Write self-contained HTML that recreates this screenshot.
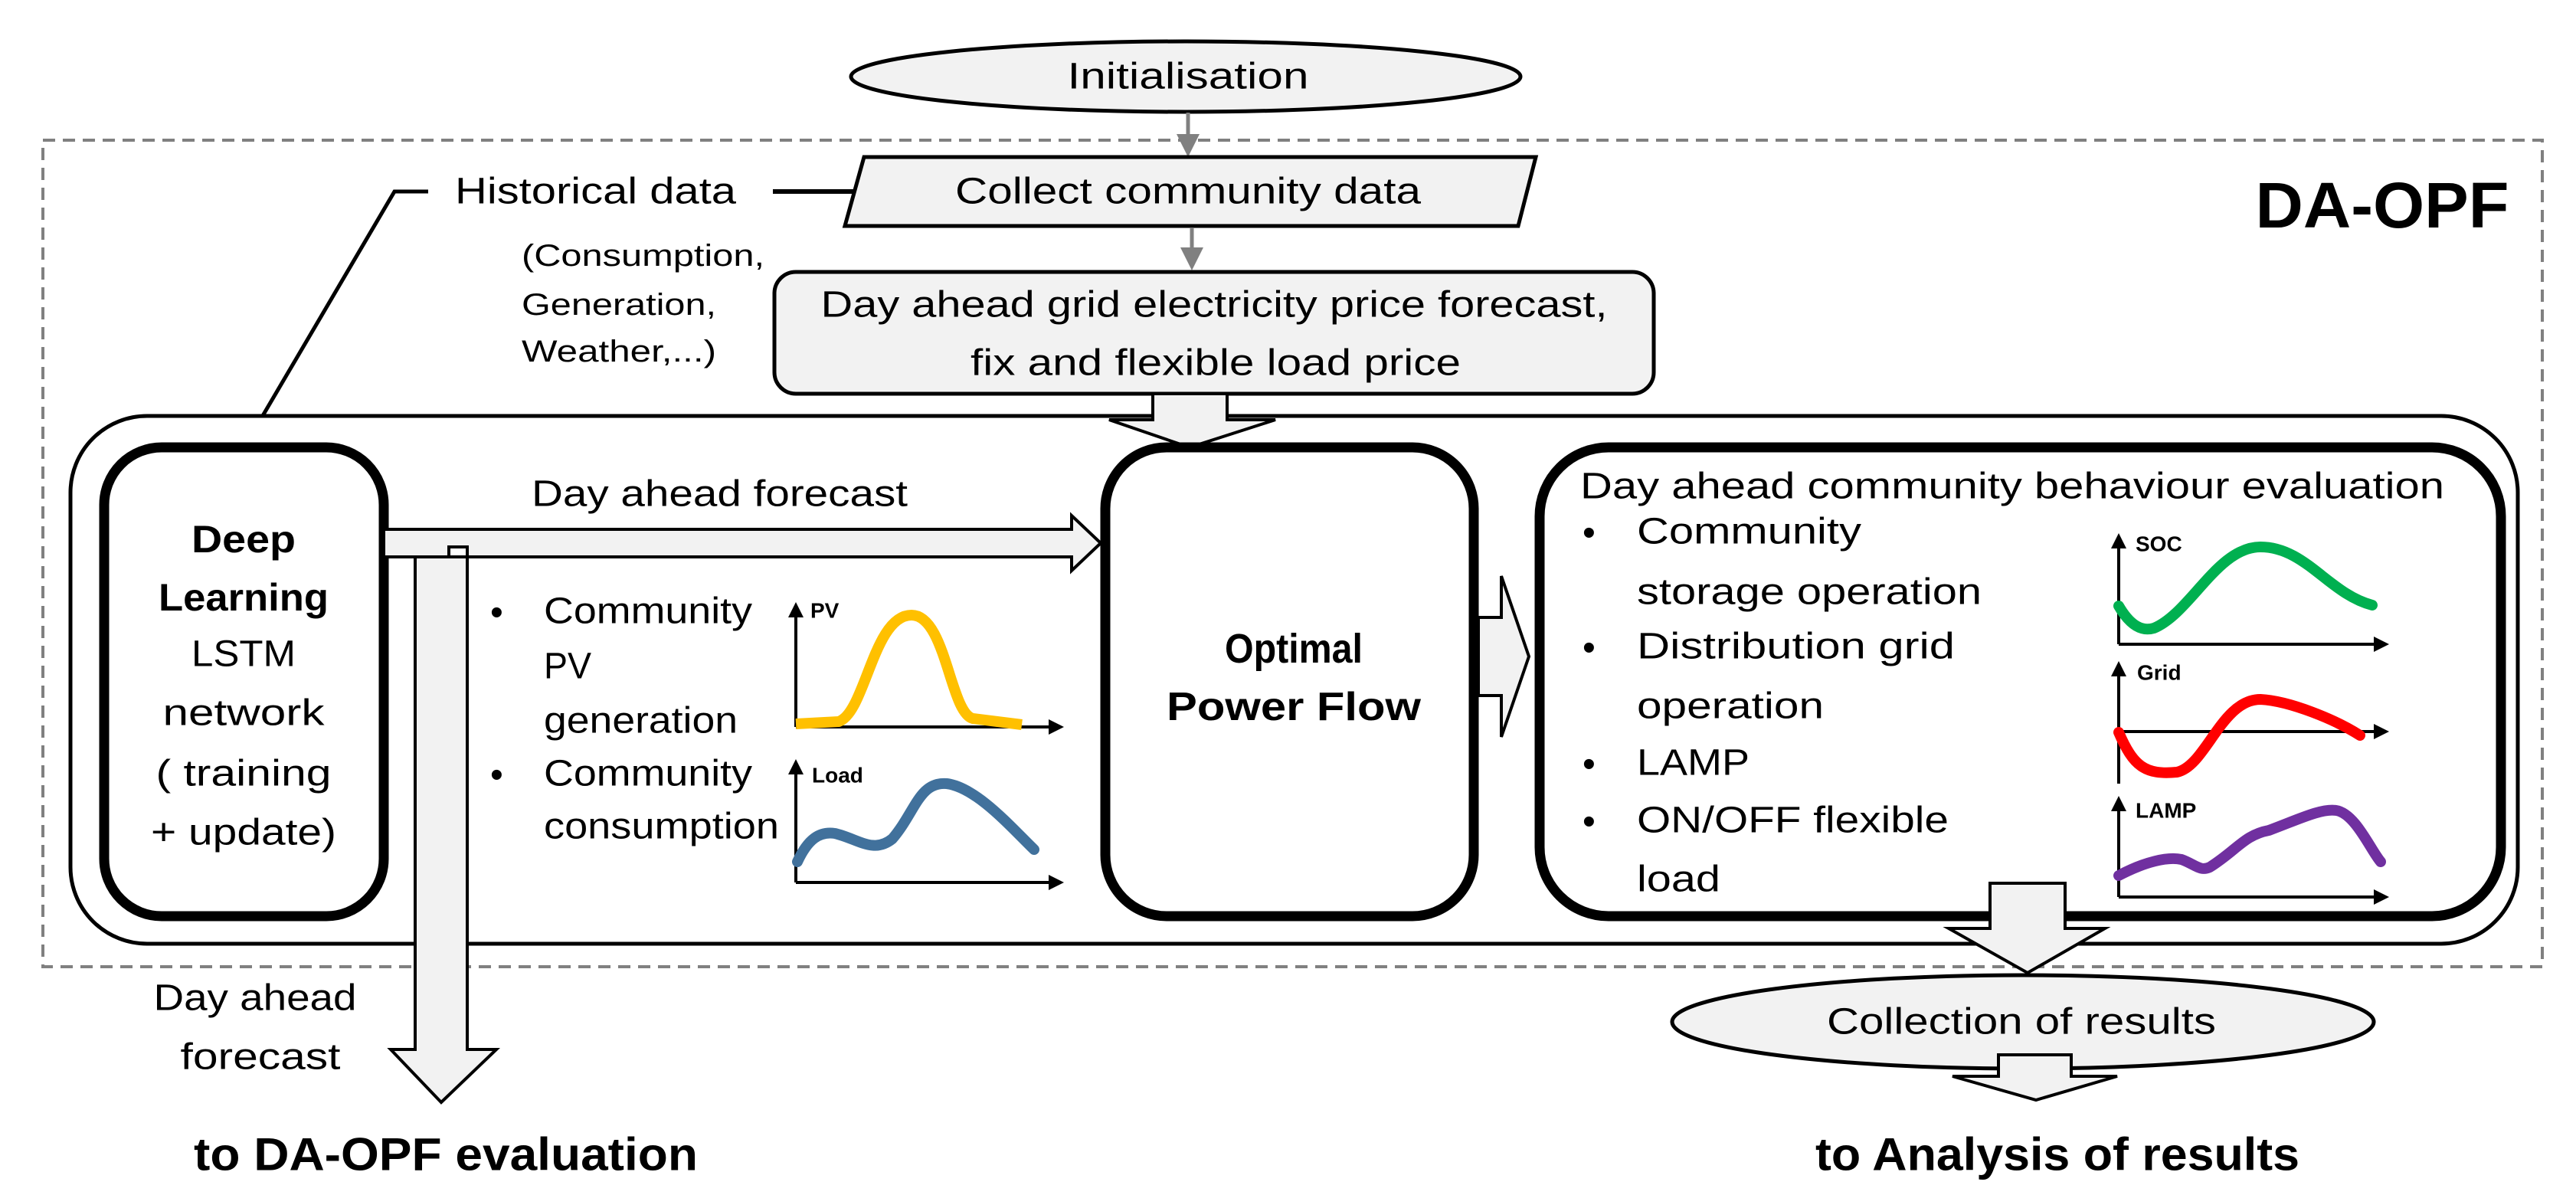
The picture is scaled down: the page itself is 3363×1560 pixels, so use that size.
<!DOCTYPE html>
<html><head><meta charset="utf-8"><style>
html,body{margin:0;padding:0;background:#fff;}
svg{display:block;}
text{font-family:"Liberation Sans",sans-serif;fill:#000;}
</style></head><body>
<svg width="3363" height="1560" viewBox="0 0 3363 1560" xmlns="http://www.w3.org/2000/svg">
<defs>
<marker id="ga" markerWidth="6" markerHeight="6" refX="5" refY="3" orient="auto" markerUnits="strokeWidth"><path d="M0,0 L6,3 L0,6 z" fill="#808080"/></marker>
<marker id="ba" markerWidth="5" markerHeight="5" refX="4" refY="2.5" orient="auto" markerUnits="strokeWidth"><path d="M0,0 L5,2.5 L0,5 z" fill="#000"/></marker>
</defs>
<rect x="56" y="183" width="3263" height="1079" fill="none" stroke="#808080" stroke-width="4" stroke-dasharray="16,10"/>
<ellipse cx="1548" cy="100" rx="437" ry="46" fill="#f2f2f2" stroke="#000" stroke-width="5"/>
<text x="1551" y="100" dominant-baseline="central" text-anchor="middle" font-size="48" textLength="315" lengthAdjust="spacingAndGlyphs">Initialisation</text>
<line x1="1551" y1="147" x2="1551" y2="200" stroke="#808080" stroke-width="5" marker-end="url(#ga)"/>
<polygon points="1128,205 2005,205 1982,295 1103,295" fill="#f2f2f2" stroke="#000" stroke-width="5"/>
<text x="1551" y="250" dominant-baseline="central" text-anchor="middle" font-size="48" textLength="608" lengthAdjust="spacingAndGlyphs">Collect community data</text>
<line x1="1556" y1="297" x2="1556" y2="348" stroke="#808080" stroke-width="5" marker-end="url(#ga)"/>
<text x="594" y="250" dominant-baseline="central" font-size="48" textLength="367" lengthAdjust="spacingAndGlyphs">Historical data</text>
<line x1="1009" y1="250" x2="1117" y2="250" stroke="#000" stroke-width="6"/>
<polyline points="559,250 515,250 334,558" fill="none" stroke="#000" stroke-width="5"/>
<polygon points="323,580 322,550 344,562" fill="#000"/>
<text x="681" y="334" dominant-baseline="central" font-size="40" textLength="317" lengthAdjust="spacingAndGlyphs">(Consumption,</text>
<text x="681" y="398" dominant-baseline="central" font-size="40" textLength="254" lengthAdjust="spacingAndGlyphs">Generation,</text>
<text x="681" y="459" dominant-baseline="central" font-size="40" textLength="254" lengthAdjust="spacingAndGlyphs">Weather,...)</text>
<rect x="1011" y="355" width="1148" height="159" rx="28" fill="#f2f2f2" stroke="#000" stroke-width="5"/>
<text x="1585" y="398" dominant-baseline="central" text-anchor="middle" font-size="48" textLength="1027" lengthAdjust="spacingAndGlyphs">Day ahead grid electricity price forecast,</text>
<text x="1587" y="474" dominant-baseline="central" text-anchor="middle" font-size="48" textLength="640" lengthAdjust="spacingAndGlyphs">fix and flexible load price</text>
<text x="3110" y="268" dominant-baseline="central" text-anchor="middle" font-size="84" font-weight="bold" textLength="331" lengthAdjust="spacingAndGlyphs">DA-OPF</text>
<rect x="92" y="543" width="3195" height="689" rx="100" fill="#fff" stroke="#000" stroke-width="5"/>
<polygon points="1505,514 1602,514 1602,548 1665,548 1553,584 1448,548 1505,548" fill="#f2f2f2" stroke="#000" stroke-width="4"/>
<rect x="136" y="584" width="365" height="612" rx="75" fill="#fff" stroke="#000" stroke-width="13"/>
<text x="318" y="704" dominant-baseline="central" text-anchor="middle" font-size="50" font-weight="bold" textLength="136" lengthAdjust="spacingAndGlyphs">Deep</text>
<text x="318" y="780" dominant-baseline="central" text-anchor="middle" font-size="50" font-weight="bold" textLength="222" lengthAdjust="spacingAndGlyphs">Learning</text>
<text x="318" y="854" dominant-baseline="central" text-anchor="middle" font-size="48" textLength="136" lengthAdjust="spacingAndGlyphs">LSTM</text>
<text x="318" y="931" dominant-baseline="central" text-anchor="middle" font-size="48" textLength="211" lengthAdjust="spacingAndGlyphs">network</text>
<text x="318" y="1010" dominant-baseline="central" text-anchor="middle" font-size="48" textLength="229" lengthAdjust="spacingAndGlyphs">( training</text>
<text x="318" y="1087" dominant-baseline="central" text-anchor="middle" font-size="48" textLength="242" lengthAdjust="spacingAndGlyphs">+ update)</text>
<polygon points="542,727 610,727 610,1370 648,1370 576,1439 510,1370 542,1370" fill="#f2f2f2" stroke="#000" stroke-width="4"/>
<polygon points="501,691 1399,691 1399,673 1437,709 1399,745 1399,727 610,727 610,714 586,714 586,727 542,727 542,727 501,727" fill="#f2f2f2" stroke="#000" stroke-width="4"/>
<text x="694" y="645" dominant-baseline="central" font-size="48" textLength="491" lengthAdjust="spacingAndGlyphs">Day ahead forecast</text>
<g font-size="48">
<text x="640" y="800" dominant-baseline="central">•</text>
<text x="710" y="798" dominant-baseline="central" textLength="272" lengthAdjust="spacingAndGlyphs">Community</text>
<text x="710" y="870" dominant-baseline="central" textLength="62" lengthAdjust="spacingAndGlyphs">PV</text>
<text x="710" y="941" dominant-baseline="central" textLength="253" lengthAdjust="spacingAndGlyphs">generation</text>
<text x="640" y="1012" dominant-baseline="central">•</text>
<text x="710" y="1010" dominant-baseline="central" textLength="272" lengthAdjust="spacingAndGlyphs">Community</text>
<text x="710" y="1079" dominant-baseline="central" textLength="307" lengthAdjust="spacingAndGlyphs">consumption</text>
</g>
<line x1="1039" y1="949" x2="1039" y2="790" stroke="#000" stroke-width="4" marker-end="url(#ba)"/>
<line x1="1039" y1="949" x2="1385" y2="949" stroke="#000" stroke-width="4" marker-end="url(#ba)"/>
<text x="1058" y="797" dominant-baseline="central" font-size="28" font-weight="bold">PV</text>
<path d="M1039,945 L1095,942 C1130,930 1140,803 1190,803 C1235,803 1240,930 1270,938 L1334,946" fill="none" stroke="#ffc000" stroke-width="14" stroke-linejoin="round"/>
<line x1="1039" y1="1152" x2="1039" y2="995" stroke="#000" stroke-width="4" marker-end="url(#ba)"/>
<line x1="1039" y1="1152" x2="1385" y2="1152" stroke="#000" stroke-width="4" marker-end="url(#ba)"/>
<text x="1060" y="1012" dominant-baseline="central" font-size="28" font-weight="bold">Load</text>
<path d="M1041,1125 C1055,1095 1070,1085 1090,1088 C1120,1095 1140,1115 1165,1095 C1195,1060 1200,1020 1236,1023 C1275,1028 1320,1080 1350,1109" fill="none" stroke="#41719c" stroke-width="14" stroke-linecap="round"/>
<rect x="1443" y="584" width="481" height="612" rx="80" fill="#fff" stroke="#000" stroke-width="13"/>
<text x="1689" y="847" dominant-baseline="central" text-anchor="middle" font-size="54" font-weight="bold" textLength="180" lengthAdjust="spacingAndGlyphs">Optimal</text>
<text x="1689" y="923" dominant-baseline="central" text-anchor="middle" font-size="52" font-weight="bold" textLength="332" lengthAdjust="spacingAndGlyphs">Power Flow</text>
<polygon points="1930,806 1960,806 1960,752 1996,857 1960,962 1960,908 1930,908" fill="#f2f2f2" stroke="#000" stroke-width="4"/>
<rect x="2010" y="584" width="1255" height="612" rx="90" fill="#fff" stroke="#000" stroke-width="13"/>
<text x="2063" y="635" dominant-baseline="central" font-size="48" textLength="1128" lengthAdjust="spacingAndGlyphs">Day ahead community behaviour evaluation</text>
<g font-size="48">
<text x="2066" y="696" dominant-baseline="central">•</text>
<text x="2137" y="694" dominant-baseline="central" textLength="293" lengthAdjust="spacingAndGlyphs">Community</text>
<text x="2137" y="773" dominant-baseline="central" textLength="450" lengthAdjust="spacingAndGlyphs">storage operation</text>
<text x="2066" y="846" dominant-baseline="central">•</text>
<text x="2137" y="844" dominant-baseline="central" textLength="415" lengthAdjust="spacingAndGlyphs">Distribution grid</text>
<text x="2137" y="922" dominant-baseline="central" textLength="244" lengthAdjust="spacingAndGlyphs">operation</text>
<text x="2066" y="998" dominant-baseline="central">•</text>
<text x="2137" y="996" dominant-baseline="central" textLength="147" lengthAdjust="spacingAndGlyphs">LAMP</text>
<text x="2066" y="1073" dominant-baseline="central">•</text>
<text x="2137" y="1071" dominant-baseline="central" textLength="407" lengthAdjust="spacingAndGlyphs">ON/OFF flexible</text>
<text x="2137" y="1148" dominant-baseline="central" textLength="109" lengthAdjust="spacingAndGlyphs">load</text>
</g>
<line x1="2766" y1="841" x2="2766" y2="700" stroke="#000" stroke-width="4" marker-end="url(#ba)"/>
<line x1="2766" y1="841" x2="3115" y2="841" stroke="#000" stroke-width="4" marker-end="url(#ba)"/>
<text x="2788" y="710" dominant-baseline="central" font-size="28" font-weight="bold">SOC</text>
<path d="M2766,791 C2780,815 2795,825 2812,820 C2860,800 2895,714 2951,714 C3010,714 3040,775 3097,790" fill="none" stroke="#00b050" stroke-width="14" stroke-linecap="round"/>
<line x1="2766" y1="1023" x2="2766" y2="867" stroke="#000" stroke-width="4" marker-end="url(#ba)"/>
<line x1="2766" y1="955" x2="3115" y2="955" stroke="#000" stroke-width="4" marker-end="url(#ba)"/>
<text x="2790" y="878" dominant-baseline="central" font-size="28" font-weight="bold">Grid</text>
<path d="M2766,956 C2785,1000 2800,1012 2842,1008 C2880,1000 2900,913 2951,913 C2990,915 3050,940 3081,960" fill="none" stroke="#ff0000" stroke-width="14" stroke-linecap="round"/>
<line x1="2766" y1="1171" x2="2766" y2="1043" stroke="#000" stroke-width="4" marker-end="url(#ba)"/>
<line x1="2766" y1="1171" x2="3115" y2="1171" stroke="#000" stroke-width="4" marker-end="url(#ba)"/>
<text x="2788" y="1058" dominant-baseline="central" font-size="28" font-weight="bold">LAMP</text>
<path d="M2766,1143 C2800,1125 2830,1118 2848,1122 C2865,1128 2872,1138 2885,1132 C2920,1110 2930,1090 2962,1084 C3000,1070 3030,1055 3050,1058 C3075,1062 3095,1110 3108,1125" fill="none" stroke="#7030a0" stroke-width="14" stroke-linecap="round"/>
<polygon points="2598,1153 2696,1153 2696,1212 2748,1212 2647,1270 2544,1212 2598,1212" fill="#f2f2f2" stroke="#000" stroke-width="4"/>
<ellipse cx="2641" cy="1334" rx="458" ry="61" fill="#f2f2f2" stroke="#000" stroke-width="5"/>
<text x="2639" y="1334" dominant-baseline="central" text-anchor="middle" font-size="48" textLength="508" lengthAdjust="spacingAndGlyphs">Collection of results</text>
<polygon points="2609,1377 2704,1377 2704,1405 2764,1405 2658,1436 2549,1405 2609,1405" fill="#f2f2f2" stroke="#000" stroke-width="4"/>
<text x="333" y="1303" dominant-baseline="central" text-anchor="middle" font-size="48" textLength="265" lengthAdjust="spacingAndGlyphs">Day ahead</text>
<text x="340" y="1380" dominant-baseline="central" text-anchor="middle" font-size="48" textLength="209" lengthAdjust="spacingAndGlyphs">forecast</text>
<text x="582" y="1507" dominant-baseline="central" text-anchor="middle" font-size="60" font-weight="bold" textLength="658" lengthAdjust="spacingAndGlyphs">to DA-OPF evaluation</text>
<text x="2686" y="1507" dominant-baseline="central" text-anchor="middle" font-size="60" font-weight="bold" textLength="632" lengthAdjust="spacingAndGlyphs">to Analysis of results</text>
</svg>
</body></html>
